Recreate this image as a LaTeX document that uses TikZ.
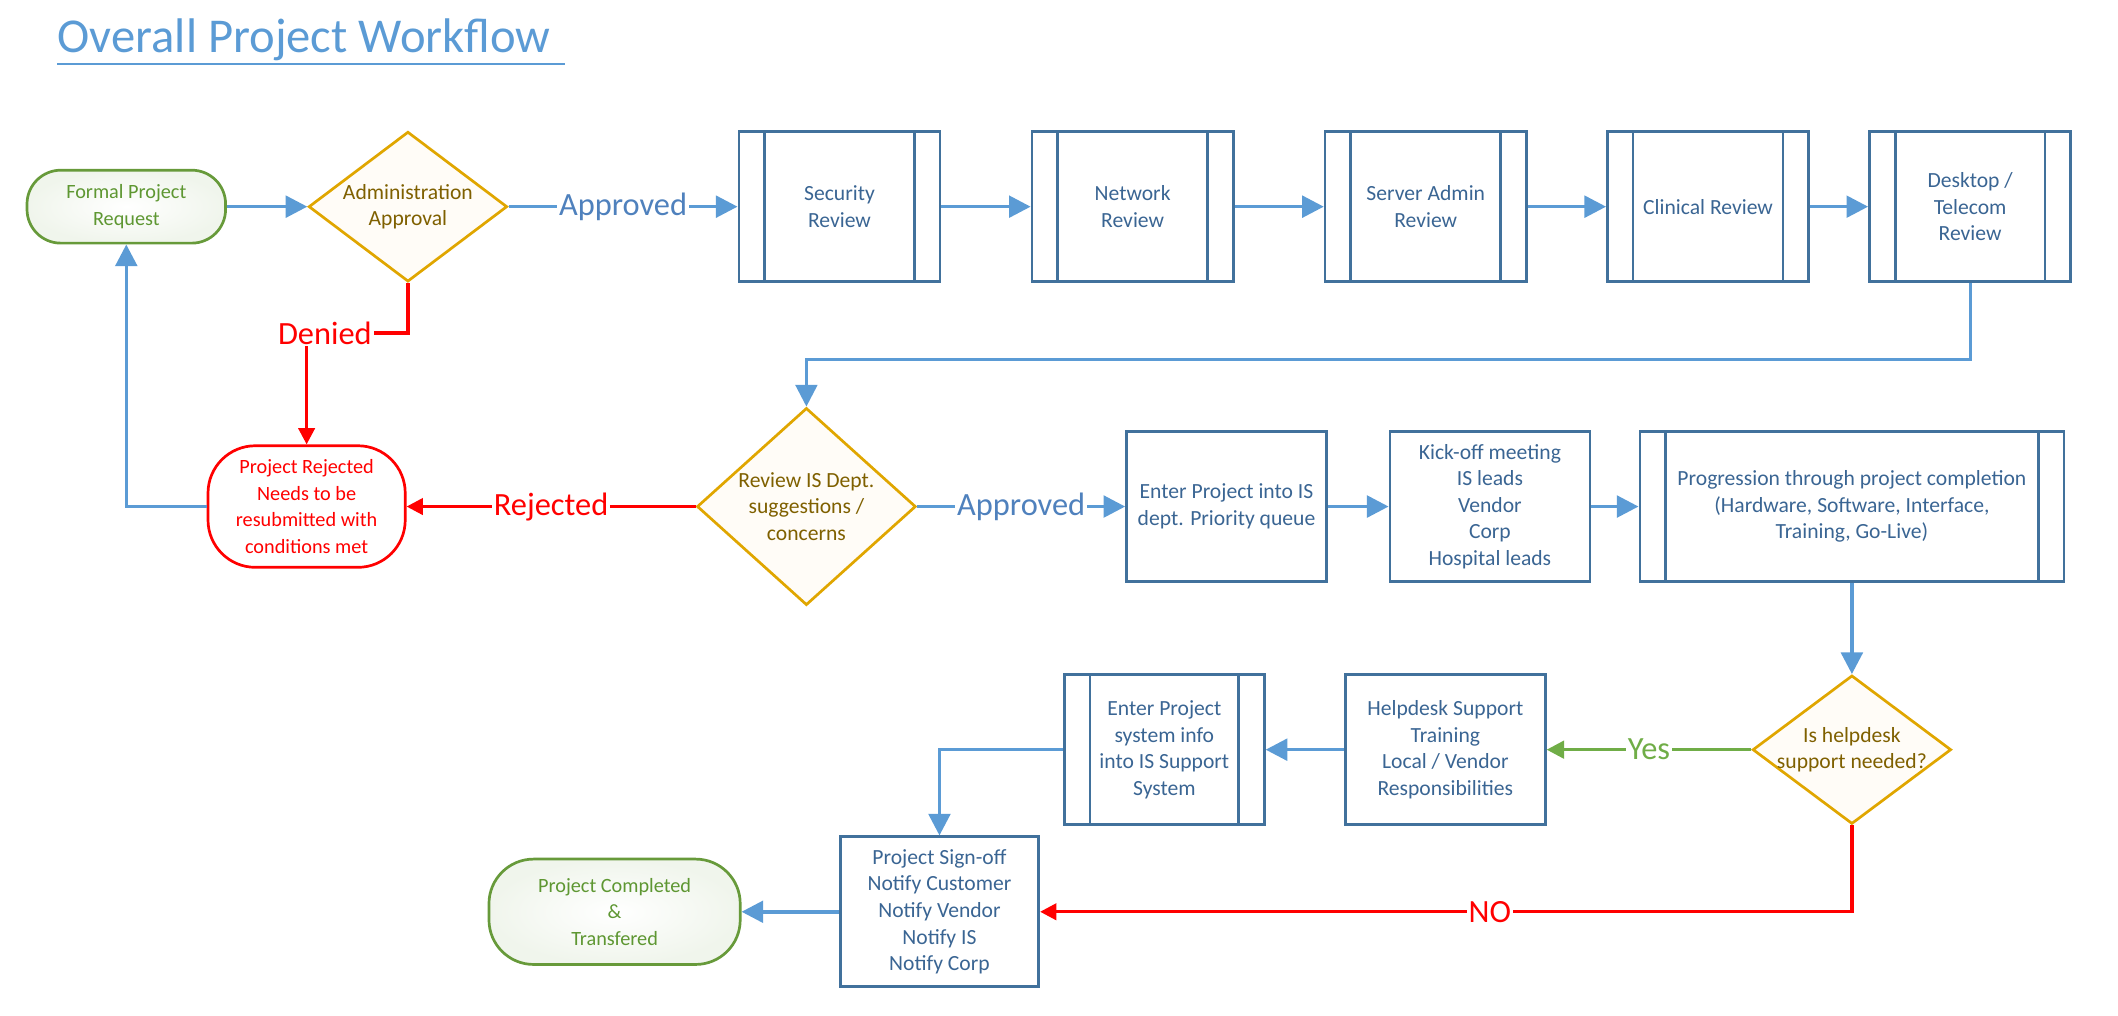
\documentclass[tikz,border=0pt]{standalone}
\usepackage{fontspec}
\setmainfont{Carlito}
\usetikzlibrary{shapes.geometric,arrows.meta}
\definecolor{lblue}{HTML}{5B9BD5}
\definecolor{bborder}{HTML}{41719C}
\definecolor{btext}{HTML}{3A6593}
\definecolor{gborder}{HTML}{679A3A}
\definecolor{gtext}{HTML}{5E9732}
\definecolor{gold}{HTML}{E0A600}
\definecolor{dtext}{HTML}{7F6000}
\definecolor{yesgreen}{HTML}{70AD47}
\definecolor{appblue}{HTML}{4F81BD}
\definecolor{dfill}{HTML}{FFFCF7}
\definecolor{gfill}{HTML}{F0F5EC}
\definecolor{myred}{HTML}{FF0000}
\begin{document}
\begin{tikzpicture}[x=1pt,y=-1pt,
  every node/.style={font=\fontsize{16}{19.7}\selectfont, align=center, inner sep=0pt},
  proc/.style={draw=bborder, line width=2pt, rectangle, minimum width=148pt, minimum height=111pt, text=btext},
  pproc/.style={proc, path picture={
      \draw[bborder,line width=2pt]
        ([xshift=19pt]path picture bounding box.north west) -- ([xshift=19pt]path picture bounding box.south west)
        ([xshift=-19pt]path picture bounding box.north east) -- ([xshift=-19pt]path picture bounding box.south east);}},
  dia/.style={draw=gold, line width=2pt, diamond, fill=dfill, minimum width=147pt, minimum height=111pt},
  diatext/.style={text=dtext},
  termg/.style={draw=gborder, line width=2pt, rectangle, inner color=white, outer color=gfill, text=gtext,
      font=\fontsize{15}{19.7}\selectfont},
  termr/.style={draw=myred, line width=2pt, rectangle, fill=white, text=myred,
      font=\fontsize{15}{19.7}\selectfont},
  lbl/.style={fill=white, inner sep=1.5pt, font=\fontsize{24}{28}\selectfont},
  conn/.style={draw=lblue, line width=2.6pt, -{Triangle[length=16pt,width=16pt]}},
  redconn/.style={draw=myred, line width=2.4pt, -{Triangle[length=12pt,width=12pt]}},
  greenconn/.style={draw=yesgreen, line width=2.6pt, -{Triangle[length=13pt,width=13pt]}}
]
\useasboundingbox (0,0) rectangle (1568,752);

% title
\node[anchor=base west, text=lblue, font=\fontsize{36}{40}\selectfont] (title) at (42.5,38.6) {Overall Project Workflow};
\draw[lblue, line width=1.5pt] (42.5,47.5) -- (418,47.5);

% top row
\node[termg, minimum width=147pt, minimum height=54pt, rounded corners=25pt] (form) at (93.5,153) {Formal Project\\Request};
\node[dia] (adm) at (302,153) {};
\node[diatext] (admt) at (adm) {Administration\\Approval};
\node[pproc, minimum width=149pt] (sec) at (621.5,153) {Security\\Review};
\node[pproc, minimum width=149pt] (net) at (838.5,153) {Network\\Review};
\node[pproc, minimum width=149pt] (srv) at (1055.5,153) {Server Admin\\Review};
\node[pproc, minimum width=149pt] (cli) at (1264.5,153) {Clinical Review};
\node[pproc, minimum width=149pt] (desk) at (1458.5,153) {Desktop /\\Telecom\\Review};

% middle row
\node[dia, minimum width=162pt, minimum height=146pt] (rev) at (597,375) {};
\node[diatext] (revt) at (rev) {Review IS Dept.\\suggestions /\\concerns};
\node[termr, minimum width=146pt, minimum height=90pt, rounded corners=35pt] (rej) at (227,375)
  {Project Rejected\\Needs to be\\resubmitted with\\conditions met};
\node[proc] (ent) at (908,375) {Enter Project into IS\\dept. Priority queue};
\node[proc] (kick) at (1103,375) {Kick-off meeting\\IS leads\\Vendor\\Corp\\Hospital leads};
\node[pproc, minimum width=314pt] (prog) at (1371,375) {Progression through project completion\\(Hardware, Software, Interface,\\Training, Go-Live)};

% bottom rows
\node[dia, minimum height=110pt] (hd) at (1371,555) {};
\node[diatext] (hdt) at (hd) {Is helpdesk\\support needed?};
\node[proc] (help) at (1070,555) {Helpdesk Support\\Training\\Local / Vendor\\Responsibilities};
\node[pproc] (sys) at (862,555) {Enter Project\\system info\\into IS Support\\System};
\node[proc, minimum width=147pt] (sign) at (695.5,675) {Project Sign-off\\Notify Customer\\Notify Vendor\\Notify IS\\Notify Corp};
\node[termg, minimum width=186pt, minimum height=78pt, rounded corners=33pt] (done) at (455,675) {Project Completed\\\&\\Transfered};

% connectors
\draw[conn] (form.east) -- (adm.west);
\draw[conn] (adm.east) -- node[lbl, text=appblue] (app1) {Approved} (sec.west);
\draw[conn] (sec.east) -- (net.west);
\draw[conn] (net.east) -- (srv.west);
\draw[conn] (srv.east) -- (cli.west);
\draw[conn] (cli.east) -- (desk.west);
\draw[conn, line width=2.2pt] (desk.south) -- ++(0,57) -| (rev.north);
\draw[redconn] (adm.south) -- ++(0,37) -| node[lbl, text=myred, pos=0.41] (den) {Denied} (rej.north);
\draw[redconn] (rev.west) -- node[lbl, text=myred] (rjl) {Rejected} (rej.east);
\draw[conn] (rej.west) -| (form.south);
\draw[conn] (rev.east) -- node[lbl, text=appblue] (app2) {Approved} (ent.west);
\draw[conn] (ent.east) -- (kick.west);
\draw[conn] (kick.east) -- (prog.west);
\draw[conn] (prog.south) -- (hd.north);
\draw[greenconn] (hd.west) -- node[lbl, text=yesgreen] (yes) {Yes} (help.east);
\draw[conn] (help.west) -- (sys.east);
\draw[conn] (sys.west) -| (sign.north);
\draw[redconn] (hd.south) |- node[lbl, text=myred, pos=0.723] (no) {NO} (sign.east);
\draw[conn] (sign.west) -- (done.east);
\end{tikzpicture}
\end{document}
